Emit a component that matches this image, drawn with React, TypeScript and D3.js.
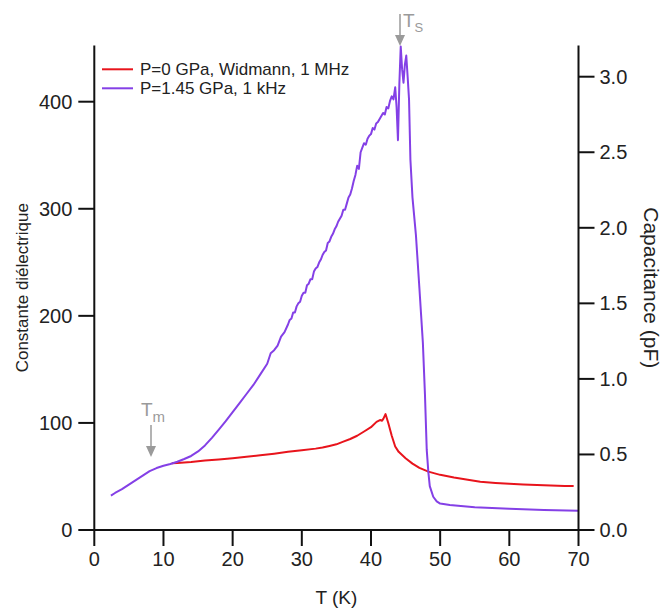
import React from "react";
import * as d3 from "d3";

// Red: P=0 GPa, Widmann, 1 MHz (dielectric constant, left axis)
const redT = [11.2, 12, 14, 16, 18, 20, 22, 24, 26, 28, 30, 32, 33, 34, 35, 36, 37, 38, 39, 40, 40.8, 41.3, 41.6, 41.8, 42.1, 42.5, 43, 43.5, 44, 45, 46, 47, 48.3, 50, 52, 54, 55.8, 58, 60, 62, 64, 66, 68, 69.3];
const redV = [62.3, 62.5, 63.5, 64.8, 65.8, 67, 68.3, 69.8, 71.3, 73, 74.5, 76, 77, 78.5, 80, 82.5, 85, 88, 92, 96, 101, 102.7, 102, 104, 108.3, 100, 88, 78, 73, 67, 62, 58, 54.5, 51.5, 49, 47, 45.1, 44, 43.2, 42.5, 42, 41.5, 41.2, 41.1];

// Purple: P=1.45 GPa, 1 kHz (capacitance, right axis)
const purT = [2.4, 3, 4, 5, 6, 7, 8, 9, 10, 11, 12, 13, 14, 15, 16, 17, 18, 19, 20, 21, 22, 23, 24, 25, 25.5, 26, 26.5, 27, 27.5,
  28, 28.25, 28.5, 28.75, 29, 29.25, 29.5, 29.75, 30, 30.25, 30.5, 30.75, 31, 31.25, 31.5, 31.75, 32, 32.25, 32.5, 32.75,
  33, 33.25, 33.5, 33.75, 34, 34.25, 34.5, 34.75, 35, 35.25, 35.5, 35.75, 36, 36.25, 36.5, 36.75, 37, 37.25, 37.5, 37.75,
  38, 38.25, 38.5, 38.75, 39, 39.25, 39.5, 39.75, 40, 40.25, 40.5, 40.75, 41, 41.25, 41.5, 41.75, 42, 42.25, 42.5, 42.75,
  43, 43.25, 43.5, 43.7, 43.9, 44.1, 44.3, 44.5, 44.7, 44.9, 45.1, 45.3, 45.5, 45.7, 46, 46.5, 47, 47.5, 47.8, 48.06, 48.3, 48.5,
  49, 49.5, 50, 51.4, 55, 60, 65, 70];
const purV = [0.227, 0.245, 0.27, 0.30, 0.33, 0.36, 0.39, 0.41, 0.425, 0.437, 0.452, 0.47, 0.49, 0.52, 0.56, 0.61, 0.665, 0.72, 0.78, 0.84, 0.9, 0.96, 1.03, 1.1, 1.17, 1.19, 1.22, 1.28, 1.31,
  1.36, 1.39, 1.40, 1.44, 1.44, 1.48, 1.50, 1.51, 1.55, 1.57, 1.57, 1.62, 1.63, 1.66, 1.66, 1.71, 1.73, 1.74, 1.77, 1.79,
  1.82, 1.84, 1.85, 1.90, 1.91, 1.94, 1.96, 1.99, 2.01, 2.04, 2.06, 2.08, 2.12, 2.12, 2.16, 2.20, 2.22, 2.26, 2.31, 2.35,
  2.41, 2.39, 2.50, 2.53, 2.56, 2.55, 2.59, 2.61, 2.62, 2.66, 2.65, 2.69, 2.70, 2.72, 2.74, 2.76, 2.75, 2.80, 2.79, 2.84,
  2.87, 2.85, 2.93, 2.80, 2.58, 2.95, 3.20, 3.05, 2.96, 3.08, 3.14, 3.00, 2.85, 2.45, 2.2, 1.95, 1.6, 1.24, 0.9, 0.53, 0.38, 0.29,
  0.22, 0.19, 0.175, 0.165, 0.15, 0.14, 0.133, 0.128];

const xTicks = [0, 10, 20, 30, 40, 50, 60, 70];
const leftTicks = [0, 100, 200, 300, 400];
const rightTicks = [0, 0.5, 1.0, 1.5, 2.0, 2.5, 3.0];
const legendLabels = ["P=0 GPa, Widmann, 1 MHz", "P=1.45 GPa, 1 kHz"];
const colors = ["#e8141c", "#8440e6"];

const W = 666, H = 610;
const X0 = 94.3, X1 = 578.5, Y0 = 530, YT = 45.5;
const FONT = "'Liberation Sans', Arial, sans-serif";

export default function App() {
  const x = d3.scaleLinear().domain([0, 70]).range([X0, X1]);
  const yL = d3.scaleLinear().domain([0, 400]).range([Y0, 101.7]);
  const yR = d3.scaleLinear().domain([0, 3.0]).range([Y0, 76.7]);
  const topL = yL.invert(YT);
  const topR = yR.invert(YT);

  const redLine = d3.line<number>().x((_, i) => x(redT[i])).y((v) => yL(v))(redV) || "";
  const purLine = d3.line<number>().x((_, i) => x(purT[i])).y((v) => yR(v))(purV) || "";

  const tickLen = 16;
  const tc = "#222";
  const ann = "#9a9a9a";
  const midY = (YT + Y0) / 2;

  return (
    <svg width={W} height={H} style={{ position: "absolute", left: 0, top: 0, background: "#fff" }} fontFamily={FONT}>
      {/* data */}
      <path d={redLine} fill="none" stroke={colors[0]} strokeWidth={2} strokeLinejoin="round" />
      <path d={purLine} fill="none" stroke={colors[1]} strokeWidth={2} strokeLinejoin="round" />

      {/* axes */}
      <g stroke="#111" strokeWidth={2}>
        <line x1={X0} x2={X0} y1={yL(topL)} y2={Y0} />
        <line x1={X1} x2={X1} y1={yR(topR)} y2={Y0} />
        <line x1={X0} x2={X1} y1={Y0} y2={Y0} />
        {xTicks.map((t) => (
          <line key={"xt" + t} x1={x(t)} x2={x(t)} y1={Y0} y2={Y0 + tickLen} />
        ))}
        {leftTicks.map((t) => (
          <line key={"lt" + t} x1={X0 - tickLen} x2={X0} y1={yL(t)} y2={yL(t)} />
        ))}
        {rightTicks.map((t) => (
          <line key={"rt" + t} x1={X1} x2={X1 + tickLen} y1={yR(t)} y2={yR(t)} />
        ))}
      </g>
      <g fill={tc} fontSize={20}>
        {xTicks.map((t) => (
          <text key={"xl" + t} x={x(t)} y={Y0 + 36} textAnchor="middle">{t}</text>
        ))}
        {leftTicks.map((t) => (
          <text key={"ll" + t} x={X0 - tickLen - 6} y={yL(t)} dy="0.35em" textAnchor="end">{t}</text>
        ))}
        {rightTicks.map((t) => (
          <text key={"rl" + t} x={X1 + tickLen + 5} y={yR(t)} dy="0.35em" textAnchor="start">{d3.format(".1f")(t)}</text>
        ))}
      </g>
      <text x={(X0 + X1) / 2} y={604} textAnchor="middle" fontSize={19} fill={tc}>T (K)</text>
      <text transform={`translate(28,${midY}) rotate(-90)`} textAnchor="middle" fontSize={17} fill={tc}>Constante diélectrique</text>
      <text transform={`translate(644,${midY}) rotate(90)`} textAnchor="middle" fontSize={21} fill={tc}>Capacitance (pF)</text>

      {/* legend */}
      {legendLabels.map((l, i) => (
        <g key={l}>
          <line x1={102} x2={133} y1={69.3 + i * 19} y2={69.3 + i * 19} stroke={colors[i]} strokeWidth={2} />
          <text x={140} y={69.3 + i * 19} dy="0.35em" fontSize={17} fill={tc}>{l}</text>
        </g>
      ))}

      {/* annotations */}
      <g stroke={ann} strokeWidth={1.5} fill={ann}>
        <line x1={400} x2={400} y1={14} y2={38} />
        <path d="M395,35 L405,35 L400,46 Z" stroke="none" />
        <line x1={151} x2={151} y1={425} y2={449} />
        <path d="M146,446 L156,446 L151,457 Z" stroke="none" />
      </g>
      <text x={403} y={27} fontSize={19} fill={ann}>T<tspan fontSize={13} dy={5}>S</tspan></text>
      <text x={141} y={416} fontSize={19} fill={ann}>T<tspan fontSize={15} dy={6}>m</tspan></text>
    </svg>
  );
}
